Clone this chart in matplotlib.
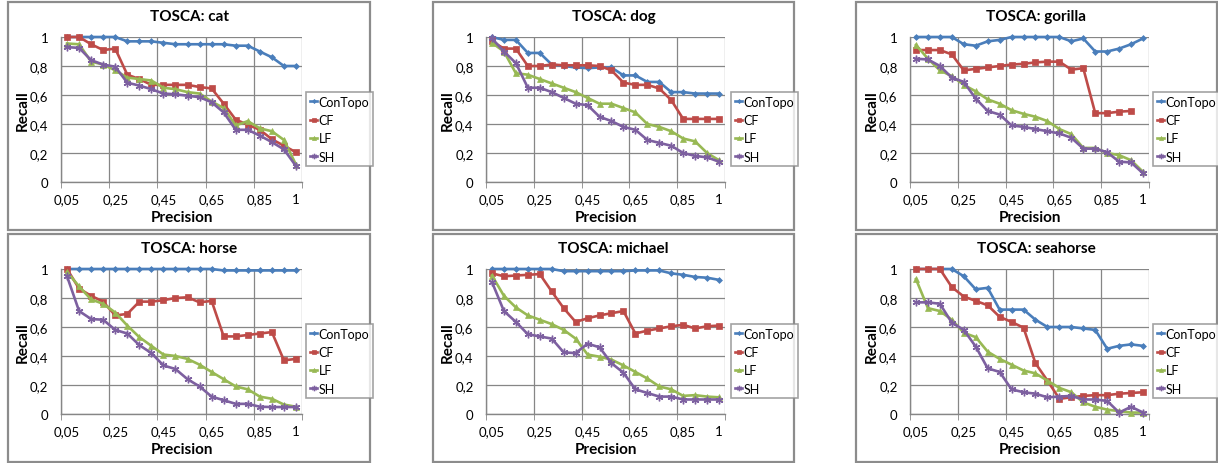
import matplotlib
matplotlib.use('Agg')
import matplotlib.pyplot as plt
from matplotlib.patches import Rectangle
import numpy as np

plt.rcParams['font.family'] = ['Lato', 'DejaVu Sans']

# precision categories (x axis is categorical, like the Excel original)
precision = ['0,05', '0,1', '0,15', '0,2', '0,25', '0,3', '0,35', '0,4', '0,45', '0,5',
             '0,55', '0,6', '0,65', '0,7', '0,75', '0,8', '0,85', '0,9', '0,95', '1']
shown_ticks = [0, 4, 8, 12, 16, 19]
methods = ['ConTopo', 'CF', 'LF', 'SH']

cat_contopo = [1, 1, 1, 1, 1, 0.97, 0.97, 0.97, 0.96, 0.95, 0.95, 0.95, 0.95, 0.95, 0.94, 0.94, 0.90, 0.86, 0.80, 0.80]
cat_cf = [1, 1, 0.95, 0.91, 0.92, 0.74, 0.71, 0.67, 0.67, 0.67, 0.67, 0.655, 0.645, 0.54, 0.43, 0.395, 0.36, 0.295, 0.25, 0.205]
cat_lf = [0.955, 0.95, 0.83, 0.81, 0.77, 0.72, 0.71, 0.70, 0.65, 0.64, 0.62, 0.61, 0.555, 0.51, 0.39, 0.42, 0.37, 0.35, 0.29, 0.12]
cat_sh = [0.93, 0.925, 0.84, 0.81, 0.795, 0.685, 0.665, 0.64, 0.61, 0.605, 0.595, 0.585, 0.55, 0.48, 0.36, 0.36, 0.32, 0.275, 0.225, 0.11]

dog_contopo = [1, 0.98, 0.98, 0.89, 0.89, 0.81, 0.80, 0.79, 0.785, 0.79, 0.79, 0.735, 0.735, 0.69, 0.69, 0.62, 0.62, 0.61, 0.61, 0.61]
dog_cf = [0.97, 0.92, 0.92, 0.80, 0.80, 0.81, 0.805, 0.805, 0.805, 0.80, 0.77, 0.685, 0.67, 0.67, 0.645, 0.565, 0.435, 0.435, 0.435, 0.435]
dog_lf = [0.96, 0.90, 0.75, 0.74, 0.71, 0.68, 0.65, 0.62, 0.58, 0.54, 0.54, 0.51, 0.48, 0.40, 0.38, 0.35, 0.30, 0.28, 0.20, 0.15]
dog_sh = [0.99, 0.90, 0.82, 0.65, 0.65, 0.62, 0.58, 0.54, 0.53, 0.45, 0.42, 0.38, 0.36, 0.29, 0.27, 0.25, 0.20, 0.18, 0.17, 0.14]

gorilla_contopo = [1, 1, 1, 1, 0.95, 0.94, 0.97, 0.98, 1, 1, 1, 1, 1, 0.97, 0.99, 0.90, 0.90, 0.92, 0.95, 0.99]
gorilla_cf = [0.91, 0.91, 0.91, 0.88, 0.77, 0.78, 0.79, 0.80, 0.81, 0.815, 0.825, 0.83, 0.83, 0.775, 0.785, 0.475, 0.475, 0.485, 0.49, np.nan]
gorilla_lf = [0.945, 0.85, 0.77, 0.73, 0.67, 0.625, 0.57, 0.54, 0.495, 0.47, 0.45, 0.42, 0.365, 0.33, 0.235, 0.235, 0.20, 0.185, 0.15, 0.07]
gorilla_sh = [0.85, 0.845, 0.80, 0.72, 0.69, 0.575, 0.49, 0.465, 0.39, 0.38, 0.365, 0.35, 0.335, 0.305, 0.23, 0.23, 0.205, 0.14, 0.135, 0.06]

horse_contopo = [1, 1, 1, 1, 1, 1, 1, 1, 1, 1, 1, 1, 1, 0.99, 0.99, 0.99, 0.99, 0.99, 0.99, 0.99]
horse_cf = [1, 0.865, 0.815, 0.775, 0.68, 0.69, 0.775, 0.775, 0.785, 0.80, 0.805, 0.77, 0.78, 0.535, 0.535, 0.545, 0.555, 0.565, 0.37, 0.38]
horse_lf = [0.98, 0.88, 0.79, 0.76, 0.70, 0.61, 0.53, 0.47, 0.41, 0.40, 0.38, 0.34, 0.29, 0.24, 0.19, 0.17, 0.12, 0.105, 0.065, 0.05]
horse_sh = [0.95, 0.71, 0.655, 0.65, 0.58, 0.555, 0.475, 0.42, 0.335, 0.31, 0.24, 0.19, 0.12, 0.095, 0.07, 0.07, 0.05, 0.048, 0.048, 0.048]

michael_contopo = [1, 1, 1, 1, 1, 1, 0.985, 0.985, 0.985, 0.985, 0.985, 0.985, 0.99, 0.99, 0.99, 0.97, 0.96, 0.945, 0.94, 0.925]
michael_cf = [0.97, 0.95, 0.955, 0.96, 0.965, 0.845, 0.73, 0.635, 0.66, 0.68, 0.695, 0.71, 0.555, 0.575, 0.59, 0.605, 0.615, 0.59, 0.605, 0.61]
michael_lf = [0.955, 0.815, 0.735, 0.68, 0.65, 0.62, 0.58, 0.52, 0.41, 0.395, 0.375, 0.335, 0.29, 0.245, 0.19, 0.17, 0.125, 0.13, 0.12, 0.115]
michael_sh = [0.91, 0.71, 0.635, 0.55, 0.535, 0.52, 0.425, 0.42, 0.485, 0.46, 0.35, 0.285, 0.17, 0.145, 0.12, 0.12, 0.10, 0.10, 0.10, 0.10]

seahorse_contopo = [1, 1, 1, 1, 0.95, 0.86, 0.87, 0.72, 0.72, 0.72, 0.65, 0.60, 0.60, 0.60, 0.59, 0.58, 0.45, 0.47, 0.48, 0.47]
seahorse_cf = [1, 1, 1, 0.875, 0.81, 0.78, 0.75, 0.67, 0.635, 0.595, 0.35, 0.23, 0.105, 0.115, 0.125, 0.13, 0.13, 0.14, 0.145, 0.15]
seahorse_lf = [0.93, 0.73, 0.71, 0.65, 0.56, 0.53, 0.43, 0.38, 0.34, 0.30, 0.28, 0.23, 0.18, 0.15, 0.08, 0.05, 0.03, 0.02, 0.01, 0.01]
seahorse_sh = [0.77, 0.77, 0.76, 0.63, 0.58, 0.465, 0.315, 0.29, 0.17, 0.15, 0.14, 0.115, 0.12, 0.125, 0.10, 0.10, 0.09, 0.01, 0.05, 0.01]

panels = [
    ('cat', [cat_contopo, cat_cf, cat_lf, cat_sh]),
    ('dog', [dog_contopo, dog_cf, dog_lf, dog_sh]),
    ('gorilla', [gorilla_contopo, gorilla_cf, gorilla_lf, gorilla_sh]),
    ('horse', [horse_contopo, horse_cf, horse_lf, horse_sh]),
    ('michael', [michael_contopo, michael_cf, michael_lf, michael_sh]),
    ('seahorse', [seahorse_contopo, seahorse_cf, seahorse_lf, seahorse_sh]),
]

# styles per method
colors = ['#4A7EBB', '#BE4B48', '#98B954', '#7D60A0']
markers = ['D', 's', '^', (6, 2, 0)]
msizes = [3.0, 4.2, 4.2, 5.5]

W, H = 1218, 464
fig = plt.figure(figsize=(W / 100, H / 100), dpi=100)
fig.patch.set_facecolor('white')

GRID = '#868686'

# layout in pixels
frame_x = [(8, 370), (433, 794), (856, 1217)]
frame_y = [(3, 231), (235, 463)]
plot_x = [(61, 302), (486, 725), (910, 1149)]
plot_y = [(38, 183), (270, 415)]
leg_x = [306, 731, 1153]
leg_y = [93, 325]


def fx(px):
    return px / W


def fy(py):
    return 1 - py / H


for k, (name, series) in enumerate(panels):
    r, c = divmod(k, 3)
    x0, x1 = frame_x[c]
    y0, y1 = frame_y[r]
    fig.add_artist(Rectangle((fx(x0), fy(y1)), fx(x1 - x0), (y1 - y0) / H,
                             transform=fig.transFigure, facecolor='none',
                             edgecolor='#8c8c8c', linewidth=1.6, zorder=0))

    px0, px1 = plot_x[c]
    py0, py1 = plot_y[r]
    ax = fig.add_axes([fx(px0), fy(py1), fx(px1 - px0), (py1 - py0) / H])
    idx = np.arange(len(precision))
    for s, vals in enumerate(series):
        ax.plot(idx, vals, color=colors[s], lw=1.9, marker=markers[s],
                ms=msizes[s], mew=1.0 if s == 3 else 0.5, mec=colors[s],
                label=methods[s], zorder=3 + s, clip_on=False)

    ax.set_xlim(-0.5, len(precision) - 0.5)
    ax.set_ylim(0, 1)
    ax.set_xticks(shown_ticks)
    ax.set_xticklabels([precision[i] for i in shown_ticks])
    ax.set_xticks(np.arange(-0.5, len(precision), 4), minor=True)
    ax.set_yticks([0, 0.2, 0.4, 0.6, 0.8, 1.0])
    ax.set_yticklabels(['0', '0,2', '0,4', '0,6', '0,8', '1'])
    ax.tick_params(axis='x', which='major', length=0, pad=8, labelsize=9.5)
    ax.tick_params(axis='x', which='minor', length=4, color=GRID, direction='out')
    ax.tick_params(axis='y', length=0, pad=9, labelsize=9.5)
    ax.grid(True, axis='y', color=GRID, lw=0.9)
    ax.grid(True, axis='x', which='minor', color=GRID, lw=0.9)
    ax.grid(False, axis='x', which='major')
    ax.set_axisbelow(True)
    for side in ['top', 'right']:
        ax.spines[side].set_visible(False)
    for side in ['left', 'bottom']:
        ax.spines[side].set_color(GRID)
        ax.spines[side].set_linewidth(1.0)

    fig.text(fx((x0 + x1) / 2), fy(y0 + 14), 'TOSCA: ' + name, ha='center',
             va='center', fontsize=11, fontweight='bold')
    fig.text(fx((px0 + px1) / 2), fy(py1 + 35), 'Precision', ha='center',
             va='center', fontsize=11, fontweight='bold')
    fig.text(fx(px0 - 38), fy((py0 + py1) / 2), 'Recall', ha='center',
             va='center', fontsize=11, fontweight='bold', rotation=90)

    leg = ax.legend(loc='upper left', bbox_to_anchor=(fx(leg_x[c]), fy(leg_y[r])),
                    bbox_transform=fig.transFigure, fontsize=9, frameon=True,
                    fancybox=False, edgecolor='#8c8c8c', handlelength=0.6,
                    handletextpad=0.1, labelspacing=0.5, borderpad=0.3,
                    borderaxespad=0, markerscale=0.7)
    leg.get_frame().set_linewidth(1.2)

fig.savefig('out.png', dpi=100, facecolor='white')
